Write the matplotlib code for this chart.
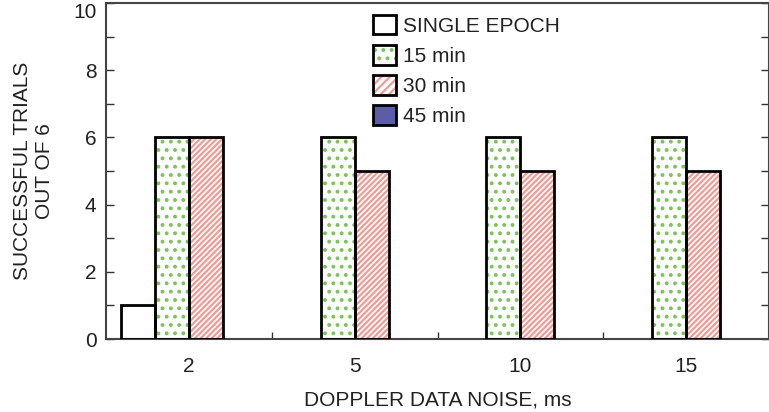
import matplotlib
matplotlib.use("Agg")
import matplotlib.pyplot as plt
from matplotlib.patches import Patch
from matplotlib.legend_handler import HandlerTuple
import numpy as np

plt.rcParams["font.family"] = ["Liberation Sans", "DejaVu Sans"]
plt.rcParams["hatch.linewidth"] = 1.6

# data
noise_labels = ["2", "5", "10", "15"]
series_names = ["SINGLE EPOCH", "15 min", "30 min", "45 min"]
single_epoch = [1, 0, 0, 0]
min15 = [6, 6, 6, 6]
min30 = [6, 5, 5, 5]
min45 = [0, 0, 0, 0]

green = "#7cc35a"
pink = "#f29a94"
navy = "#5b5ea6"
txt = "#222222"
fs = 15

fig = plt.figure(figsize=(7.69, 4.12), dpi=100)
ax = fig.add_axes([0.138, 0.177, 0.862, 0.816])

x = np.arange(len(noise_labels))
w = 0.205
series = [single_epoch, min15, min30, min45]
offsets = [-1.5, -0.5, 0.5, 1.5]

for vals, off, name in zip(series, offsets, series_names):
    xs = x + off * w
    if name == "15 min":
        ax.bar(xs, vals, w, color="white", edgecolor=green, hatch="..", linewidth=0)
    elif name == "30 min":
        ax.bar(xs, vals, w, color="white", edgecolor=pink, hatch="//////", linewidth=0)
    elif name == "45 min":
        ax.bar(xs, vals, w, color=navy, linewidth=0)
    # black outline on top, skipped for empty bars
    lw = [2.0 if v > 0 else 0 for v in vals]
    ax.bar(xs, vals, w, fill=False, edgecolor="black", linewidth=lw, zorder=3)

ax.set_xlim(-0.5, 3.5)
ax.set_ylim(0, 10)
ax.set_xticks(x)
ax.set_xticklabels(noise_labels)
ax.set_xticks([0.5, 1.5, 2.5], minor=True)
ax.tick_params(axis="x", which="major", length=0, pad=13, labelsize=fs, labelcolor=txt)
ax.tick_params(axis="x", which="minor", direction="in", length=5, width=1, color="#333333")
ax.set_yticks([0, 2, 4, 6, 8, 10])
ax.set_yticks([1, 3, 5, 7, 9], minor=True)
ax.tick_params(axis="y", which="both", direction="in", length=6, width=1,
               right=True, color="#333333", labelsize=fs, pad=7, labelcolor=txt)
ax.yaxis.get_major_ticks()[-1].label1.set_va("top")

for s in ax.spines.values():
    s.set_color("#444444")
    s.set_linewidth(1.5)

ax.set_xlabel("DOPPLER DATA NOISE, ms", fontsize=fs, labelpad=10, color=txt)
ax.set_ylabel("SUCCESSFUL TRIALS\nOUT OF 6", fontsize=fs, labelpad=14,
              linespacing=1.15, color=txt)

outline = Patch(facecolor="none", edgecolor="black", linewidth=2)
handles = [
    (Patch(facecolor="white", linewidth=0), outline),
    (Patch(facecolor="white", edgecolor=green, hatch="..", linewidth=0), outline),
    (Patch(facecolor="white", edgecolor=pink, hatch="////", linewidth=0), outline),
    (Patch(facecolor=navy, linewidth=0), outline),
]
leg = ax.legend(handles, series_names, loc="upper left", bbox_to_anchor=(0.403, 0.965),
                frameon=False, fontsize=fs, handlelength=1.07, handleheight=1.07,
                handletextpad=0.35, labelspacing=0.45, borderpad=0, borderaxespad=0,
                handler_map={tuple: HandlerTuple(ndivide=1, pad=0)})
for t in leg.get_texts():
    t.set_color(txt)

fig.savefig("out.png", dpi=100)
